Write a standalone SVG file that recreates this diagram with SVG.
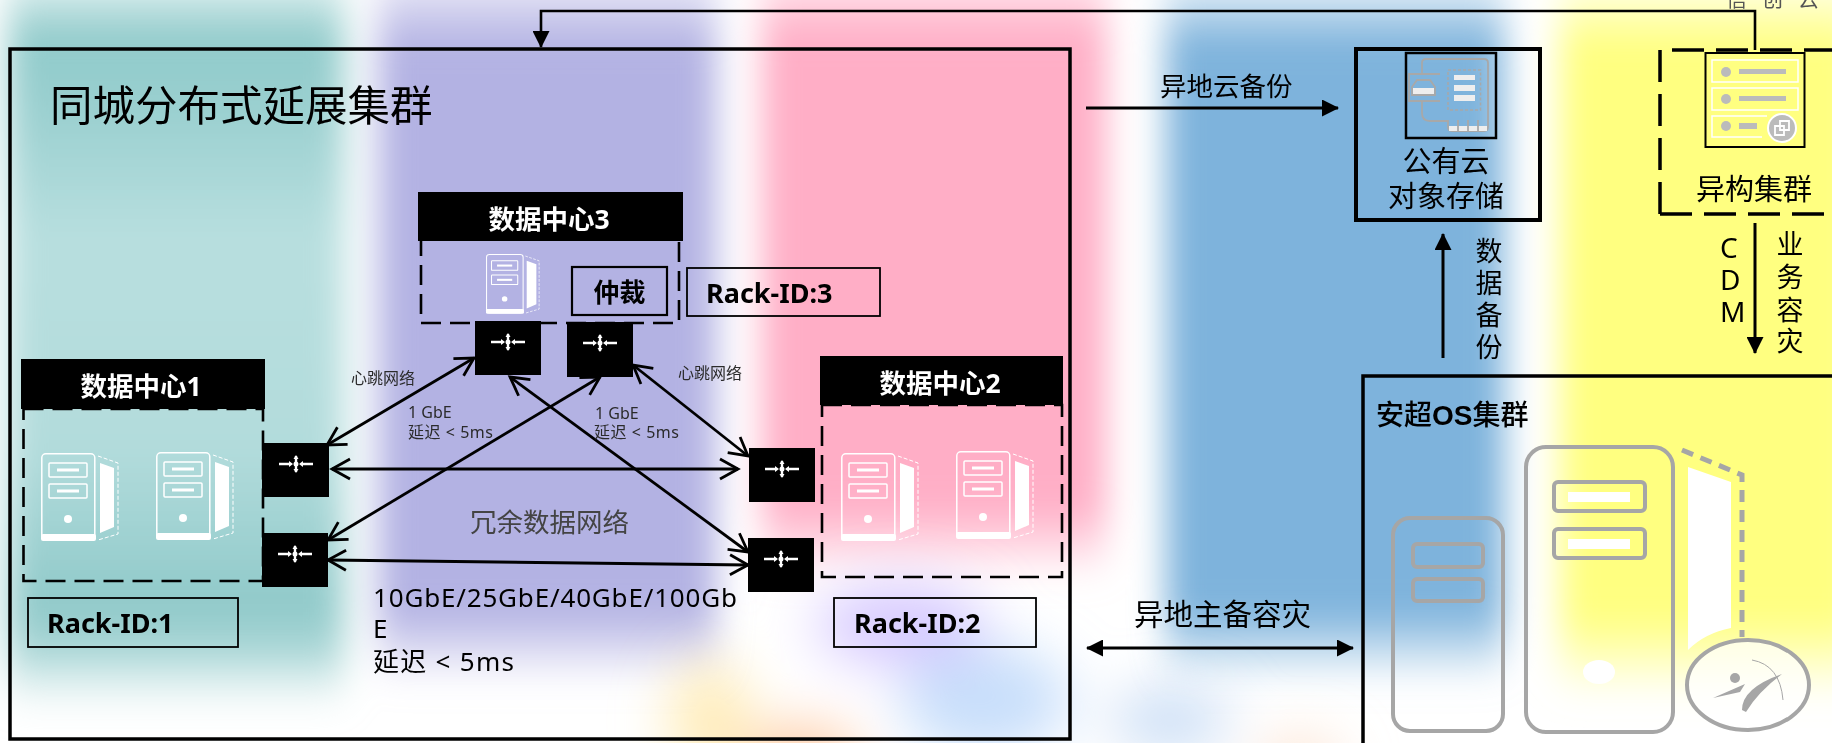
<svg xmlns="http://www.w3.org/2000/svg" xmlns:xlink="http://www.w3.org/1999/xlink" width="1832" height="743" viewBox="0 0 1832 743">
<style>
text{font-family:"Noto Sans","Noto Sans CJK SC","Liberation Sans",sans-serif;fill:#000}
.hdr{fill:#000}
.hdrt{font-size:26.5px;font-weight:700;fill:#fff;text-anchor:middle}
.dash{fill:none;stroke:#000;stroke-width:2.6;stroke-dasharray:20 9}
.rack{fill:none;stroke:#000;stroke-width:1.8}
.rackt{font-size:27px;font-weight:700}
.sw{fill:#000}
.swi{fill:none;stroke:#fff;stroke-width:2.4}
.link{fill:none;stroke:#000;stroke-width:2.8;marker-start:url(#open);marker-end:url(#open)}
.solid{fill:none;stroke:#000;stroke-width:3}
.small{font-size:16px;fill:#2b2b2b}
.big{font-size:27px;text-anchor:middle}
.g{fill:none;stroke:#a6a6a6;stroke-width:4}
.sv{fill:none;stroke:#fff;stroke-width:1.5}
.ic{fill:none;stroke:#a8a8a8;stroke-width:1.800}
</style>
<defs>
<filter id="b14" filterUnits="userSpaceOnUse" x="-100" y="-100" width="2032" height="943"><feGaussianBlur stdDeviation="17"/></filter>
<filter id="b40" filterUnits="userSpaceOnUse" x="-100" y="-100" width="2032" height="943"><feGaussianBlur stdDeviation="28"/></filter>
<linearGradient id="gt" x1="0" y1="0" x2="0" y2="743" gradientUnits="userSpaceOnUse">
<stop offset="0" stop-color="#8fcaca" stop-opacity=".45"/><stop offset=".05" stop-color="#8fcaca"/><stop offset=".15" stop-color="#9bd0d0"/><stop offset=".32" stop-color="#b8dfdf"/><stop offset=".6" stop-color="#b3dcdc"/><stop offset=".82" stop-color="#8fc9c9"/><stop offset=".88" stop-color="#a5d4d4" stop-opacity=".9"/><stop offset=".96" stop-color="#d0e8e8" stop-opacity="0"/>
</linearGradient>
<linearGradient id="gp" x1="0" y1="0" x2="0" y2="743" gradientUnits="userSpaceOnUse">
<stop offset="0" stop-color="#b3b2e3" stop-opacity=".45"/><stop offset=".06" stop-color="#b3b2e3"/><stop offset=".82" stop-color="#b3b2e3"/><stop offset=".92" stop-color="#b3b2e3" stop-opacity="0"/>
</linearGradient>
<linearGradient id="gk" x1="0" y1="0" x2="0" y2="743" gradientUnits="userSpaceOnUse">
<stop offset="0" stop-color="#ffaec6" stop-opacity=".5"/><stop offset=".05" stop-color="#ffaec6"/><stop offset=".68" stop-color="#ffaec6"/><stop offset=".78" stop-color="#ffaec6" stop-opacity="0"/>
</linearGradient>
<linearGradient id="gb" x1="0" y1="0" x2="0" y2="743" gradientUnits="userSpaceOnUse">
<stop offset="0" stop-color="#7eb3dc" stop-opacity=".35"/><stop offset=".06" stop-color="#7eb3dc"/><stop offset=".82" stop-color="#7eb3dc"/><stop offset=".92" stop-color="#7eb3dc" stop-opacity="0"/>
</linearGradient>
<linearGradient id="gy" x1="0" y1="0" x2="0" y2="743" gradientUnits="userSpaceOnUse">
<stop offset="0" stop-color="#ffff80" stop-opacity=".35"/><stop offset=".06" stop-color="#ffff80"/><stop offset=".83" stop-color="#ffff80"/><stop offset=".94" stop-color="#ffff80" stop-opacity="0"/>
</linearGradient>
<marker id="open" markerUnits="userSpaceOnUse" markerWidth="26" markerHeight="30" refX="20" refY="13" orient="auto-start-reverse" viewBox="0 0 26 26" overflow="visible"><path d="M2 3 L20 13 L2 23" fill="none" stroke="#000" stroke-width="2.8"/></marker>
<marker id="tri" markerUnits="userSpaceOnUse" markerWidth="17" markerHeight="17" refX="16" refY="8.5" orient="auto-start-reverse" viewBox="0 0 17 17"><path d="M0 0 L17 8.5 L0 17 Z" fill="#000"/></marker>
<g id="server">
<rect class="sv" x="0.8" y="0.8" width="53" height="86" rx="4"/>
<rect x="0" y="81" width="55" height="7" rx="2" fill="#fff"/>
<rect class="sv" x="8" y="10" width="38" height="14" rx="1"/>
<rect class="sv" x="8" y="31" width="38" height="14" rx="1"/>
<rect x="16" y="15.500" width="22" height="3" fill="#fff"/>
<rect x="16" y="36.500" width="22" height="3" fill="#fff"/>
<circle cx="27" cy="66" r="4" fill="#fff"/>
<path d="M59 10 L73 15 L73 74 L59 80 Z" fill="#fff"/>
<path d="M57 3 L77 10 L77 81 L57 87" fill="none" stroke="#fff" stroke-width="1" stroke-dasharray="4 2"/>
</g>
<g id="swicon" class="swi">
<path d="M-17 0 H-6 M17 0 H6 M0 -8 V8"/>
<path d="M-7 -3 L-3 0 L-7 3 Z M7 -3 L3 0 L7 3 Z M-2.500 -5 L0 -9 L2.500 -5 Z M-2.500 5 L0 9 L2.500 5 Z M-2.500 0 A2.500 2.500 0 0 0 2.500 0 A2.500 2.500 0 0 0 -2.500 0" fill="#fff" stroke="none"/>
</g>
</defs>

<g id="background">
<rect width="1832" height="743" fill="#fff"/>
<g filter="url(#b14)">
<rect x="8" y="-20" width="336" height="763" fill="url(#gt)"/>
<rect x="378" y="-20" width="338" height="763" fill="url(#gp)"/>
<rect x="762" y="-20" width="344" height="763" fill="url(#gk)"/>
<rect x="1166" y="-20" width="338" height="763" fill="url(#gb)"/>
<rect x="1560" y="-20" width="300" height="763" fill="url(#gy)"/>
</g>
<g filter="url(#b40)">
<ellipse cx="900" cy="625" rx="85" ry="40" fill="#d6c8ff"/>
<ellipse cx="710" cy="720" rx="40" ry="60" fill="#ffe49a" opacity=".7"/>
<ellipse cx="800" cy="765" rx="60" ry="40" fill="#ffbf90" opacity=".8"/>
<ellipse cx="985" cy="700" rx="85" ry="55" fill="#b0d0fa" opacity=".7"/>
<ellipse cx="1170" cy="720" rx="60" ry="30" fill="#c8dcf5"/>
<ellipse cx="1300" cy="770" rx="40" ry="30" fill="#fbe0cc"/>
</g>
</g>

<g id="connectors">
<path class="solid" d="M1755 50 V11 H541 V47" marker-end="url(#tri)" style="stroke-width:2.6"/>
<line class="solid" x1="1086" y1="108" x2="1338" y2="108" marker-end="url(#tri)"/>
<line class="solid" x1="1443" y1="358" x2="1443" y2="234" marker-end="url(#tri)"/>
<line class="solid" x1="1755" y1="223" x2="1755" y2="353" marker-end="url(#tri)"/>
<line class="solid" x1="1087" y1="648" x2="1353" y2="648" marker-start="url(#tri)" marker-end="url(#tri)"/>
<line class="link" x1="327" y1="445" x2="474" y2="358"/>
<line class="link" x1="332" y1="469" x2="738" y2="469"/>
<line class="link" x1="328" y1="540" x2="600" y2="377"/>
<line class="link" x1="510" y1="377" x2="748" y2="552"/>
<line class="link" x1="633" y1="365" x2="748" y2="456"/>
<line class="link" x1="328" y1="560" x2="748" y2="565"/>
</g>

<g id="cluster">
<rect x="10" y="49" width="1060" height="690" fill="none" stroke="#000" stroke-width="3.500"/>
<text x="50" y="121" font-size="42.500">同城分布式延展集群</text>
</g>

<g id="dc3">
<rect class="dash" x="421" y="239" width="258" height="84"/>
<rect class="hdr" x="418" y="192" width="265" height="49"/>
<text class="hdrt" x="549" y="229">数据中心3</text>
<use xlink:href="#server" href="#server" transform="translate(486 254) scale(.69 .68)"/>
<rect x="572" y="267" width="95" height="48" fill="none" stroke="#000" stroke-width="2.200"/>
<text x="619.500" y="302" font-size="26" font-weight="700" text-anchor="middle">仲裁</text>
<rect class="rack" x="687" y="268" width="193" height="48"/>
<text class="rackt" x="706" y="303">Rack-ID:3</text>
</g>
<g id="dc1">
<rect class="dash" x="23.500" y="409" width="239.500" height="172"/>
<rect class="hdr" x="21" y="359" width="244" height="50"/>
<text class="hdrt" x="141" y="396">数据中心1</text>
<use xlink:href="#server" href="#server" transform="translate(41 453)"/>
<use xlink:href="#server" href="#server" transform="translate(156 452)"/>
<rect class="rack" x="28" y="598" width="210" height="49"/>
<text class="rackt" x="47" y="633">Rack-ID:1</text>
</g>
<g id="dc2">
<rect class="dash" x="822" y="405" width="240" height="172"/>
<rect class="hdr" x="820" y="356" width="243" height="49"/>
<text class="hdrt" x="940" y="393">数据中心2</text>
<use xlink:href="#server" href="#server" transform="translate(841 453)"/>
<use xlink:href="#server" href="#server" transform="translate(956 451)"/>
<rect class="rack" x="834" y="598" width="202" height="49"/>
<text class="rackt" x="854" y="633">Rack-ID:2</text>
</g>

<g id="sw3a"><rect class="sw" x="475" y="321" width="66" height="54"/><use xlink:href="#swicon" href="#swicon" x="508" y="342"/></g>
<g id="sw3b"><rect class="sw" x="567" y="322" width="66" height="55"/><use xlink:href="#swicon" href="#swicon" x="600" y="343"/></g>
<g id="sw1a"><rect class="sw" x="262" y="443" width="67" height="54"/><use xlink:href="#swicon" href="#swicon" x="296" y="464"/></g>
<g id="sw1b"><rect class="sw" x="262" y="533" width="66" height="54"/><use xlink:href="#swicon" href="#swicon" x="295" y="554"/></g>
<g id="sw2a"><rect class="sw" x="749" y="448" width="66" height="54"/><use xlink:href="#swicon" href="#swicon" x="782" y="469"/></g>
<g id="sw2b"><rect class="sw" x="748" y="538" width="66" height="54"/><use xlink:href="#swicon" href="#swicon" x="781" y="559"/></g>

<g id="labels">
<text class="small" x="351" y="384">心跳网络</text>
<text class="small" x="678" y="379">心跳网络</text>
<text class="small" x="408" y="418">1 GbE</text>
<text class="small" x="408" y="438" textLength="85">延迟 &lt; 5ms</text>
<text class="small" x="595" y="419">1 GbE</text>
<text class="small" x="594" y="438" textLength="85">延迟 &lt; 5ms</text>
<text x="470" y="532" font-size="26.500" style="fill:#444">冗余数据网络</text>
<text x="373" y="607" font-size="26" textLength="364">10GbE/25GbE/40GbE/100Gb</text>
<text x="373" y="638" font-size="26">E</text>
<text x="373" y="671" font-size="26" textLength="141">延迟 &lt; 5ms</text>
<text x="1160" y="96" font-size="26.500">异地云备份</text>
<text x="1134" y="625" font-size="29.500">异地主备容灾</text>
<text x="1726" y="6" font-size="21" style="fill:#555">信</text>
<text x="1762" y="6" font-size="21" style="fill:#555">创</text>
<text x="1798" y="6" font-size="21" style="fill:#555">云</text>
<text class="big" x="1489" y="261">数</text><text class="big" x="1489" y="293">据</text><text class="big" x="1489" y="325">备</text><text class="big" x="1489" y="357">份</text>
<text class="big" x="1790" y="254">业</text><text class="big" x="1790" y="287">务</text><text class="big" x="1790" y="320">容</text><text class="big" x="1790" y="351">灾</text>
<text x="1720" y="258" font-size="28">C</text><text x="1720" y="290" font-size="28">D</text><text x="1720" y="322" font-size="28">M</text>
</g>

<g id="cloud">
<rect x="1356" y="49" width="184" height="171" fill="none" stroke="#000" stroke-width="4"/>
<rect x="1406" y="53" width="90" height="85" fill="none" stroke="#000" stroke-width="2.500"/>
<path class="ic" d="M1422 74 V63 Q1422 59 1426 59 H1484 Q1488 59 1488 63 V127 Q1488 131 1484 131 H1452 Q1448 131 1448 127 V121 H1430 Q1422 121 1422 113 V102"/>
<rect x="1448" y="70" width="32.500" height="40" fill="none" stroke="#a8a8a8" stroke-width="1.500" stroke-dasharray="3 2"/>
<path fill="#eee" d="M1454 75 H1475 V80 H1454 Z M1454 85 H1475 V91 H1454 Z M1454 95 H1475 V101 H1454 Z M1449 126 H1487 V131 H1449 Z"/>
<path class="ic" d="M1440 74 H1409 V101 H1440 M1458 120 V131 M1468 120 V131 M1478 120 V131 M1412 95 V87 L1417 80 H1430 L1435 87 V95 Z"/>
<rect x="1413" y="88" width="21" height="6" fill="#eee"/>
<text class="big" x="1446" y="172" style="font-size:29px">公有云</text>
<text class="big" x="1446" y="207" style="font-size:29px">对象存储</text>
</g>

<g id="hetero">
<path d="M1660 214 V50 H1840 M1660 214 H1840" fill="none" stroke="#000" stroke-width="3.500" stroke-dasharray="32 12"/>
<rect x="1705.500" y="53" width="99" height="94" fill="none" stroke="#000" stroke-width="2"/>
<path d="M1712 60 H1798 V82 H1712 Z M1712 88 H1798 V110 H1712 Z M1767 116 H1712 V137 H1762" fill="none" stroke="#fff" stroke-width="1.500"/>
<g fill="#bbb"><circle cx="1726" cy="72" r="5"/><circle cx="1726" cy="99" r="5"/><circle cx="1726" cy="126" r="5"/>
<rect x="1739" y="69" width="47" height="5"/><rect x="1739" y="96" width="47" height="5"/><rect x="1739" y="123" width="18" height="6"/></g>
<circle cx="1782" cy="128" r="14" fill="#bbb" stroke="#fff" stroke-width="2"/>
<path d="M1775 126 H1784 V135 H1775 Z M1780 121 H1789 V130 H1780 Z" fill="none" stroke="#fff" stroke-width="1.800"/>
<text class="big" x="1754" y="200" style="font-size:29px">异构集群</text>
</g>

<g id="anchao">
<path d="M1363 745 V376 H1840" fill="none" stroke="#000" stroke-width="3.500"/>
<text x="1376" y="425" font-size="28" font-weight="500">安超<tspan font-weight="700" style="font-family:'Liberation Sans',sans-serif">OS</tspan>集群</text>
<rect class="g" x="1393" y="518" width="110" height="213" rx="17"/>
<rect class="g" x="1413" y="544" width="70" height="23" rx="4"/>
<rect class="g" x="1413" y="579" width="70" height="22" rx="4"/>
<rect class="g" x="1526" y="447" width="147" height="285" rx="20"/>
<rect class="g" x="1554" y="482" width="91" height="29" rx="4"/>
<rect class="g" x="1554" y="529" width="91" height="29" rx="4"/>
<rect x="1568" y="492" width="62" height="10" fill="#fff"/>
<rect x="1568" y="539" width="62" height="10" fill="#fff"/>
<ellipse cx="1599" cy="672" rx="16" ry="12" fill="#fff"/>
<path d="M1688 467 L1731 482 V628 Q1705 633 1688 650 Z" fill="#fff"/>
<path d="M1682 450 L1742 475 V637" fill="none" stroke="#a6a6a6" stroke-width="5" stroke-dasharray="12 8"/>
<ellipse cx="1748" cy="685" rx="61" ry="45" fill="#fff" fill-opacity=".7" stroke="#a6a6a6" stroke-width="4"/>
<circle cx="1735" cy="678" r="5" fill="#a6a6a6"/>
<path d="M1713 698 L1745 684 L1740 692 Z M1742 710 Q1742 688 1782 674 Q1758 692 1746 712 Z" fill="#a6a6a6"/>
<path d="M1752 660 Q1780 665 1783 700" fill="none" stroke="#a6a6a6" stroke-width="1"/>
</g>
</svg>
